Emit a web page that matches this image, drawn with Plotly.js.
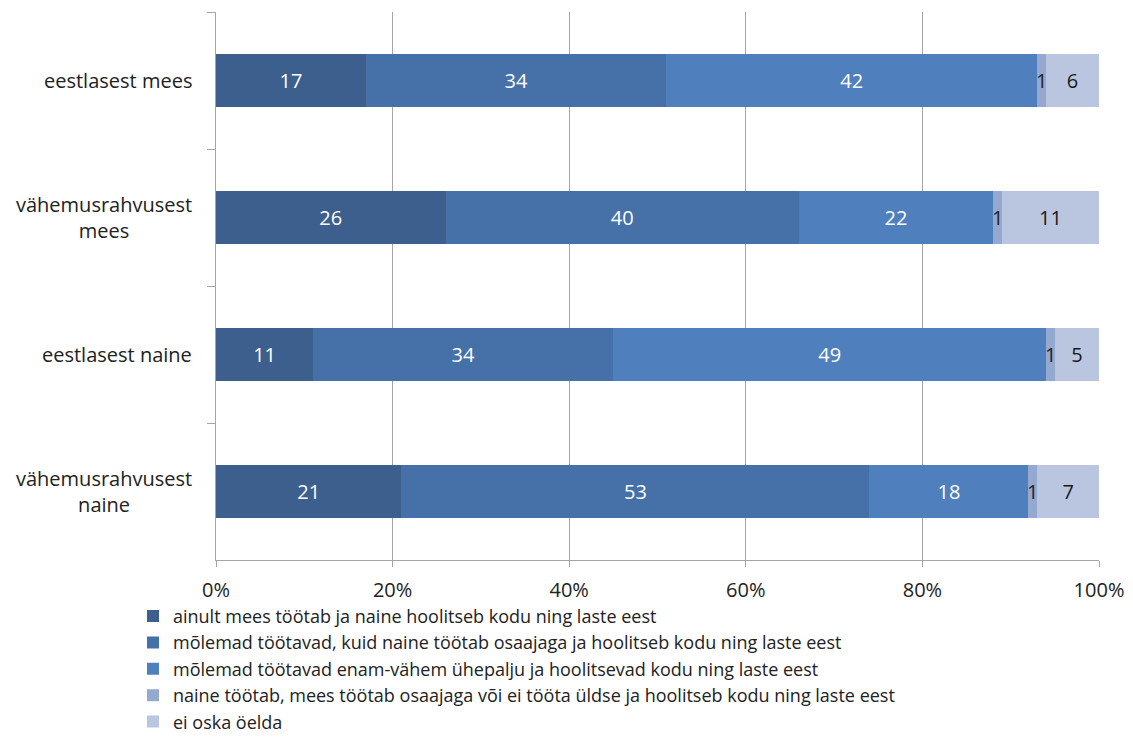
<!DOCTYPE html>
<html>
<head>
<meta charset="utf-8">
<script src="https://cdn.plot.ly/plotly-3.0.1.min.js"></script>
<style>html,body{margin:0;padding:0;background:#fff;}#chart{width:1133px;height:738px;}</style>
</head>
<body>
<div id="chart"></div>
<script>
const categories = ["eestlasest mees", "vähemusrahvusest mees", "eestlasest naine", "vähemusrahvusest naine"];
const categoryLabels = ["eestlasest mees", "vähemusrahvusest<br>mees", "eestlasest naine", "vähemusrahvusest<br>naine"];
const seriesNames = [
  "ainult mees töötab ja naine hoolitseb kodu ning laste eest",
  "mõlemad töötavad, kuid naine töötab osaajaga ja hoolitseb kodu ning laste eest",
  "mõlemad töötavad enam-vähem ühepalju ja hoolitsevad kodu ning laste eest",
  "naine töötab, mees töötab osaajaga või ei tööta üldse ja hoolitseb kodu ning laste eest",
  "ei oska öelda"
];
const s1 = [17, 26, 11, 21];
const s2 = [34, 40, 34, 53];
const s3 = [42, 22, 49, 18];
const s4 = [1, 1, 1, 1];
const s5 = [6, 11, 5, 7];
const xTickVals = [0, 20, 40, 60, 80, 100];

const colors = ["#3C5F8E", "#4571A8", "#4F80BD", "#95A9D0", "#BAC6E0"];
const textColors = ["#ffffff", "#ffffff", "#ffffff", "#1a1a1a", "#1a1a1a"];
const allSeries = [s1, s2, s3, s4, s5];
const FONT = "'Open Sans', 'Noto Sans', sans-serif";
const TXT = "#222222";

const traces = allSeries.map((vals, i) => ({
  type: "bar",
  orientation: "h",
  name: seriesNames[i],
  y: categories,
  x: vals,
  text: vals.map(String),
  textposition: i === 3 ? "none" : "inside",
  insidetextanchor: "middle",
  textangle: 0,
  constraintext: "none",
  insidetextfont: {family: FONT, size: 20, color: textColors[i]},
  marker: {color: colors[i], line: {width: 0}},
  hoverinfo: "name+x"
}));

// labels for the tiny segments, positioned via data coordinates
const annotations = categories.map((c, k) => {
  const before = s1[k] + s2[k] + s3[k];
  const total = before + s4[k] + s5[k];
  return {
    x: (before + s4[k] / 2) / total * 100,
    y: c,
    xref: "x", yref: "y",
    text: String(s4[k]),
    showarrow: false,
    font: {family: FONT, size: 20, color: TXT}
  };
});
// centered multi-line category labels
categories.forEach((c, k) => {
  annotations.push({
    x: 0, xref: "paper", xshift: -22, xanchor: "right",
    y: c, yref: "y", yanchor: "middle",
    text: categoryLabels[k],
    align: "center",
    showarrow: false,
    font: {family: FONT, size: 20, color: TXT}
  });
});

const layout = {
  width: 1133, height: 738,
  barmode: "stack",
  barnorm: "percent",
  bargap: 0.61,
  paper_bgcolor: "#ffffff",
  plot_bgcolor: "#ffffff",
  font: {family: FONT, size: 20, color: TXT},
  margin: {l: 216, r: 34, t: 12, b: 178},
  xaxis: {
    range: [0, 100],
    tickvals: xTickVals,
    ticktext: xTickVals.map(v => v + "%"),
    showgrid: true,
    gridcolor: "#A6A6A6",
    gridwidth: 1,
    zeroline: false,
    showline: true,
    linecolor: "#A6A6A6",
    ticks: "outside",
    ticklen: 6,
    tickcolor: "#A6A6A6",
    tickfont: {family: FONT, size: 20, color: TXT},
    ticklabelstandoff: 6,
    automargin: false,
    fixedrange: true
  },
  yaxis: {
    autorange: "reversed",
    showgrid: false,
    showline: true,
    linecolor: "#A6A6A6",
    ticks: "outside",
    tickson: "boundaries",
    ticklen: 8,
    tickcolor: "#A6A6A6",
    showticklabels: false,
    automargin: false,
    fixedrange: true
  },
  showlegend: true,
  legend: {
    orientation: "v",
    xref: "paper", yref: "container",
    x: -0.094, xanchor: "left",
    y: 0.19, yanchor: "top",
    traceorder: "normal",
    font: {family: FONT, size: 18, color: TXT},
    itemwidth: 30,
    bgcolor: "rgba(0,0,0,0)"
  },
  annotations: annotations
};

Plotly.newPlot("chart", traces, layout, {displayModeBar: false, staticPlot: true});
</script>
</body>
</html>
